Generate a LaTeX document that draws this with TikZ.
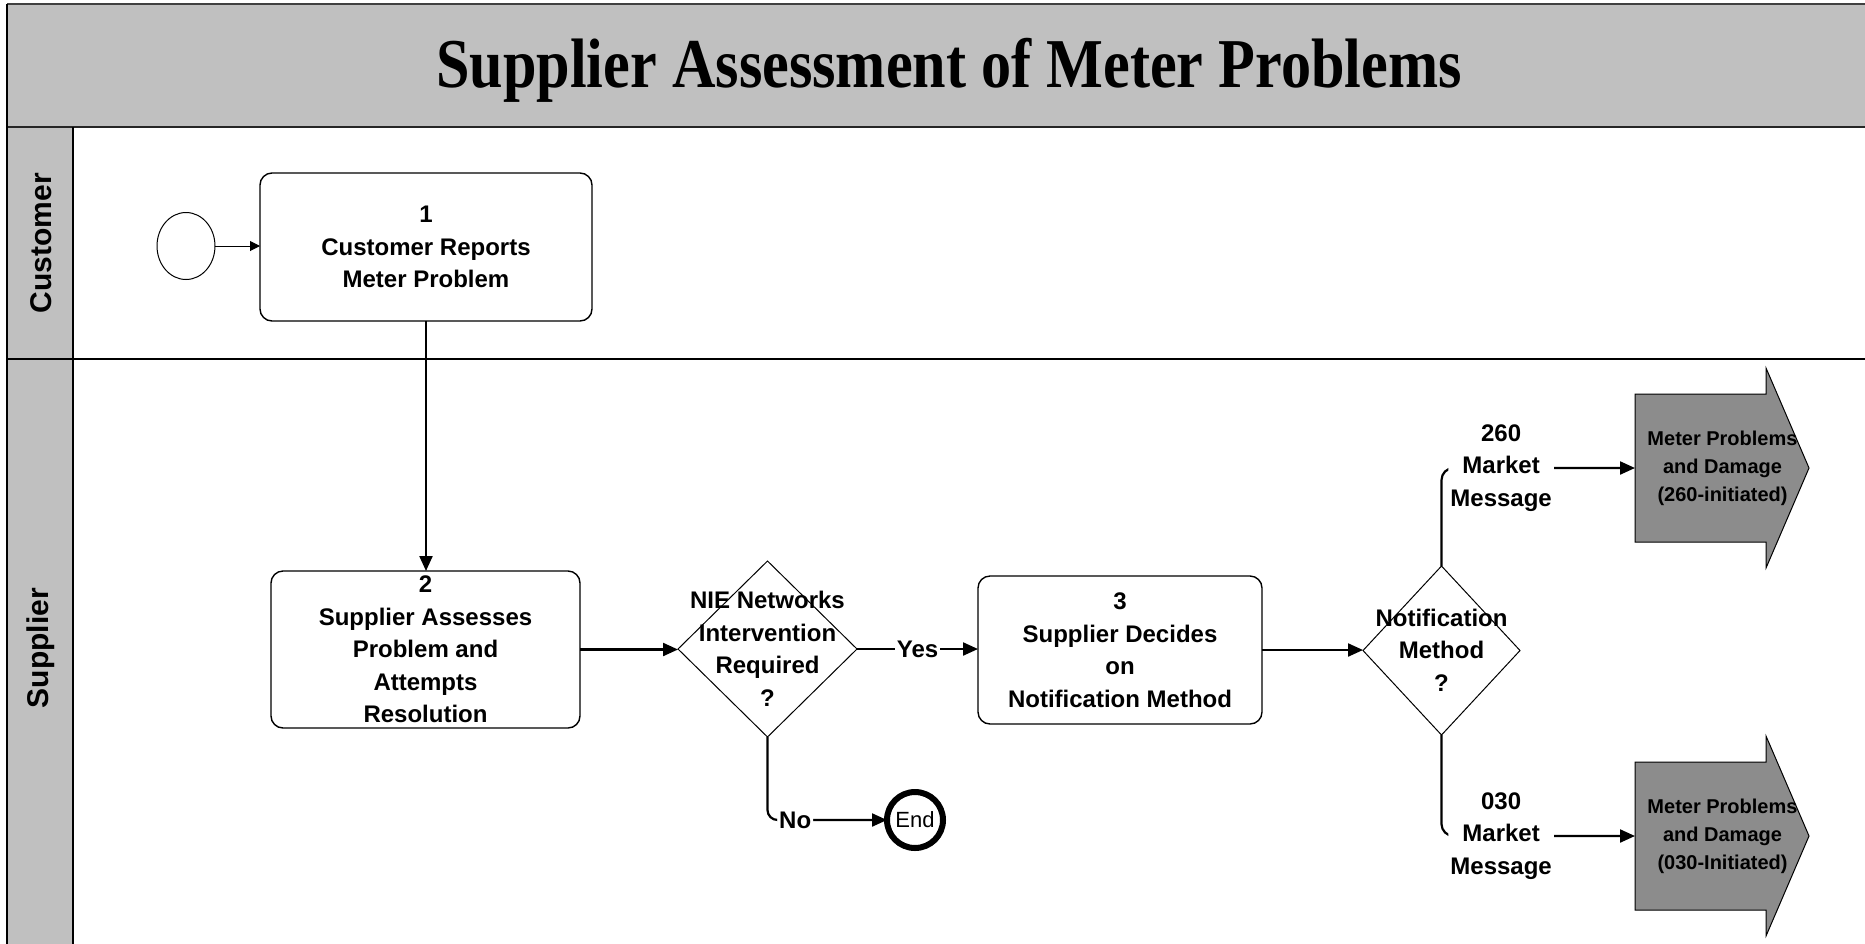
\documentclass[tikz,border=0pt]{standalone}
\usepackage{fontspec}
\usepackage{graphicx}
\setmainfont{Liberation Sans}
\newfontfamily\titlefont{Liberation Serif}
\usetikzlibrary{shapes.geometric,arrows.meta}
\definecolor{lanegray}{RGB}{192,192,192}
\definecolor{boxgray}{RGB}{140,140,140}
\newcommand\mybody{\fontsize{24}{32.5}\selectfont\bfseries}
\newcommand\mylane{\fontsize{30}{36}\selectfont\bfseries}
\newcommand\mygray{\fontsize{20}{28}\selectfont\bfseries}
\newcommand\myend{\fontsize{22}{24}\selectfont}
\newcommand\mytitle{\titlefont\fontsize{70}{80}\selectfont\bfseries}
\begin{document}
\begin{tikzpicture}[x=1pt,y=-1pt,
  every node/.style={inner sep=0pt,outer sep=0pt},
  task/.style={draw,line width=1.4pt,rounded corners=12pt,align=center,font=\mybody},
  decision/.style={draw,diamond,line width=1pt,inner sep=0pt},
  dtext/.style={align=center,font=\mybody},
  flow/.style={line width=2.2pt,-{Triangle[length=15pt,width=13pt]}},
  thinflow/.style={line width=1pt,-{Triangle[length=10pt,width=10pt]}},
  lbl/.style={fill=white,align=center,font=\mybody,inner sep=2pt},
  lanetitle/.style={rotate=90,font=\mylane},
  subproc/.style={draw,line width=1pt,fill=boxgray},
  subtext/.style={align=center,font=\mygray},
]
\useasboundingbox (0,0) rectangle (1865,943);
% frame
\fill[lanegray] (7,4) rectangle (1866,127);
\fill[lanegray] (7,127) rectangle (73,944);
\draw[line width=1.5pt,black!75] (7,4) -- (1866,4);
\draw[line width=2.5pt,black!85] (7,127) -- (1866,127);
\draw[line width=2.5pt] (7,359) -- (1866,359);
\draw[line width=1.5pt] (7,4) -- (7,944);
\draw[line width=1.5pt] (73,127) -- (73,944);
\node[anchor=base] (title) at (949,87) {\mytitle\scalebox{0.86}[1]{Supplier Assessment of Meter Problems}};
\node[lanetitle] (lc) at (41,243) {Customer};
\node[lanetitle] (ls) at (41,648) {Supplier};
% nodes
\node[draw,ellipse,line width=1pt,minimum width=58pt,minimum height=67pt] (start) at (186,246) {};
\node[task,minimum width=332pt,minimum height=148pt] (b1) at (426,247) {1\\Customer Reports\\Meter Problem};
\node[task,minimum width=309pt,minimum height=157pt] (b2) at (425.5,649.5) {2\\Supplier Assesses\\Problem and\\Attempts\\Resolution};
\node[decision,minimum width=179pt,minimum height=176pt] (d1) at (767.5,649) {};
\node[dtext] (d1t) at (767.5,649) {NIE Networks\\Intervention\\Required\\?};
\node[task,minimum width=284pt,minimum height=148pt] (b3) at (1120,650) {3\\Supplier Decides\\on\\Notification Method};
\node[decision,minimum width=157pt,minimum height=169pt] (d2) at (1441.5,650.5) {};
\node[dtext] (d2t) at (1441.5,650) {Notification\\Method\\?};
\node[draw,circle,line width=6pt,minimum size=56pt,font=\myend] (end) at (915,820) {End};
% off-page sub-process arrows
\node[minimum width=131pt,minimum height=148pt] (a1) at (1700.5,468) {};
\draw[subproc] (a1.north west) -- (a1.north east) -- ++(0,-26) -- ++(43,100) -- ++(-43,100) -- ++(0,-26) -- (a1.south west) -- cycle;
\node[subtext] (a1t) at ([xshift=22pt]a1.center) {Meter Problems\\and Damage\\(260-initiated)};
\node[minimum width=131pt,minimum height=148pt] (a2) at (1700.5,836) {};
\draw[subproc] (a2.north west) -- (a2.north east) -- ++(0,-26) -- ++(43,100) -- ++(-43,100) -- ++(0,-26) -- (a2.south west) -- cycle;
\node[subtext] (a2t) at ([xshift=22pt]a2.center) {Meter Problems\\and Damage\\(030-Initiated)};
% connectors
\draw[thinflow] (start.east) -- (b1.west |- start.east);
\draw[flow] (b1.south) -- (b1.south |- b2.north);
\draw[flow] (b2.east) -- (d1.west |- b2.east);
\draw[flow] (d1.east) -- node[lbl]{Yes} (d1.east -| b3.west);
\draw[flow,rounded corners=10pt] (d1.south) |- node[lbl,pos=0.616]{No} (end.west);
\draw[flow] (b3.east) -- (b3.east -| d2.west);
\draw[flow,rounded corners=12pt] (d2.north) |- node[lbl,pos=0.654]{260\\Market\\Message} (a1.west);
\draw[flow,rounded corners=12pt] (d2.south) |- node[lbl,pos=0.654]{030\\Market\\Message} (a2.west);
\end{tikzpicture}
\end{document}
